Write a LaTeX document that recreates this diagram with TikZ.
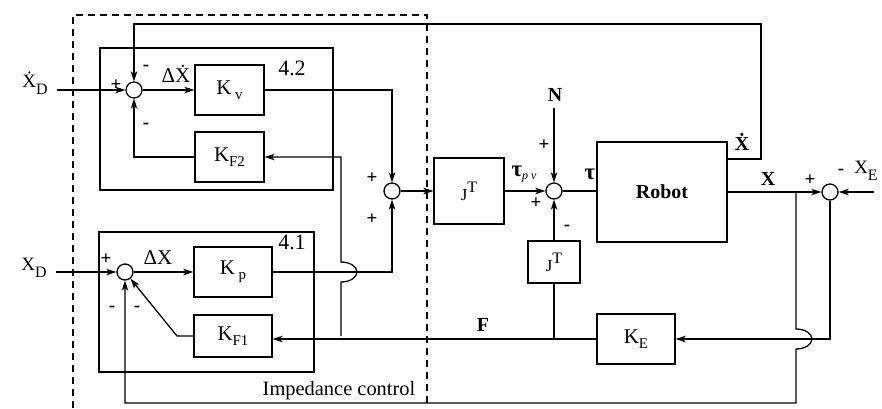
\documentclass[tikz,border=0pt]{standalone}
\usepackage{fontspec}
\setmainfont{Liberation Serif}
\usetikzlibrary{arrows.meta}
\newcommand\subb[1]{\raisebox{-0.55ex}{\fontsize{15}{15}\selectfont #1}}
\newcommand\subd[1]{\raisebox{-0.75ex}{\fontsize{16}{16}\selectfont #1}}
\newcommand\supt[1]{\raisebox{1.0ex}{\fontsize{16}{16}\selectfont #1}}
\begin{document}
\begin{tikzpicture}[x=1bp,y=-1bp, line width=1.3bp,
  >={Stealth[length=10bp,width=6.5bp,inset=2.5bp]},
  blk/.style={draw, rectangle, inner sep=0pt, font=\fontsize{21}{24}\selectfont},
  sumc/.style={draw, circle, minimum size=16bp, inner sep=0pt},
  sgn/.style={font=\fontsize{19}{19}\selectfont\bfseries, inner sep=0pt},
  lbl/.style={font=\fontsize{21}{24}\selectfont, inner sep=0pt},
  blbl/.style={font=\fontsize{20}{24}\selectfont\bfseries, inner sep=0pt},
  frame/.style={draw, line width=1.3bp},
  dashbox/.style={dash pattern=on 7bp off 5bp, line width=1.3bp}
  ]
\useasboundingbox (0,0) rectangle (882,408);
% dashed impedance-control region
\draw[dashbox] (73,408) -- (73,15) -- (427,15) -- (427,408);
\node[lbl, font=\fontsize{20.5}{24}\selectfont] (imp) at (339,391) {Impedance control};
% sub-boxes
\draw[frame] (100,48) rectangle (333,190);
\draw[frame] (99,232) rectangle (314,372);
\node[lbl, font=\fontsize{22}{24}\selectfont] (n42) at (292,68) {4.2};
\node[lbl, font=\fontsize{22}{24}\selectfont] (n41) at (292,242) {4.1};
% blocks
\node[blk, minimum width=69bp, minimum height=50bp] (Kv) at (229.5,90) {K\,\subb{v}};
\node[blk, minimum width=69bp, minimum height=50bp] (KF2) at (229.5,157) {K\subb{F2}};
\node[blk, minimum width=78bp, minimum height=50bp] (Kp) at (233,272) {K\,\subb{p}};
\node[blk, minimum width=78bp, minimum height=42bp] (KF1) at (233,336) {K\subb{F1}};
\node[blk, minimum width=70bp, minimum height=66bp, font=\fontsize{17}{20}\selectfont] (JT1) at (469,191) {J\supt{T}};
\node[blk, minimum width=52bp, minimum height=42bp, font=\fontsize{17}{20}\selectfont] (JT2) at (554,262) {J\supt{T}};
\node[blk, minimum width=130bp, minimum height=100bp, font=\fontsize{20}{24}\selectfont\bfseries] (Robot) at (662,192) {Robot};
\node[blk, minimum width=78bp, minimum height=50bp] (KE) at (636,339) {K\subb{E}};
% summing junctions
\node[sumc] (s1) at (134,90) {};
\node[sumc] (s3) at (125,272) {};
\node[sumc] (s2) at (392,191) {};
\node[sumc] (s4) at (554,191) {};
\node[sumc] (s5) at (830,192) {};
% free ends
\coordinate (inXd) at (57,90);
\coordinate (inX) at (56,272);
\coordinate (inN) at (554,108);
\coordinate (inXE) at (874,192);
\coordinate (yv) at (0,159);
% input labels
\node[lbl, font=\fontsize{19}{22}\selectfont] (lXd) at (35,83) {\.{X}\subd{D}};
\node[lbl, font=\fontsize{19}{22}\selectfont] (lX) at (34,268) {X\subd{D}};
\node[lbl, font=\fontsize{19}{22}\selectfont] (lXE) at (866,171) {X\subd{E}};
\node[blbl] (lN) at (555,95) {N};
% signal labels
\node[lbl] (ldxd) at (176,74) {Δ\.{X}};
\node[lbl] (ldx) at (158,258) {ΔX};
\node[lbl] (ltpv) at (524,174) {{\fontsize{23}{24}\selectfont\bfseries τ}\raisebox{-0.4ex}{\fontsize{12}{12}\selectfont\itshape p ν}};
\node[lbl] (ltau) at (590,174) {\fontsize{23}{24}\selectfont\bfseries τ};
\node[blbl] (lX2) at (768,179) {X};
\node[blbl] (lXdot) at (742,142) {\.{X}};
\node[blbl] (lF) at (483,325) {F};
% signs
\node[sgn] at (116,85) {+};
\node[sgn] at (146,68) {-};
\node[sgn] at (146,126) {-};
\node[sgn] at (106,259) {+};
\node[sgn] at (112,309) {-};
\node[sgn] at (137,309) {-};
\node[sgn] at (372,178) {+};
\node[sgn] at (372,219) {+};
\node[sgn] at (544,145) {+};
\node[sgn] at (536,203) {+};
\node[sgn] at (567,228) {-};
\node[sgn] at (810,180) {+};
\node[sgn] at (841,172) {-};
% connectors
\draw[->] (inXd) -- (s1);
\draw[->] (s1) -- (Kv);
\draw[->] (Kv.east) -- (392,90) -- (s2.north);
\draw[->] (KF2.west) -- (134,157) -- (s1.south);
\draw[->] (Robot.east |- yv) -- (761,159) -- (761,24) -- (134,24) -- (s1.north);
\draw[->] (341,336) -- (341,282) arc[start angle=-90, end angle=90, x radius=16bp, y radius=10bp] -- (341,157) -- (KF2.east);
\draw[->] (inX) -- (s3);
\draw[->] (s3) -- (Kp);
\draw[->] (Kp.east) -- (392,272) -- (s2.south);
\draw[->] (KF1.west) -- (177,336) -- (s3);
\draw[->] (s2) -- (JT1);
\draw[->] (JT1) -- (s4);
\draw[->] (inN) -- (s4.north);
\draw (s4) -- (Robot.west |- s4);
\draw[->] (Robot.east |- s5) -- (s5);
\draw[->] (inXE) -- (s5);
\draw[->] (s5.south) -- (830,339) -- (KE.east);
\draw[->] (KE.west) -- (KF1.east |- KE.west);
\draw (554,339) -- (JT2.south);
\draw[->] (JT2.north) -- (s4.south);
\draw[->] (796,192) -- (796,329) arc[start angle=90, end angle=-90, x radius=16bp, y radius=10bp] -- (796,403) -- (125,403) -- (s3.south);
\end{tikzpicture}
\end{document}
